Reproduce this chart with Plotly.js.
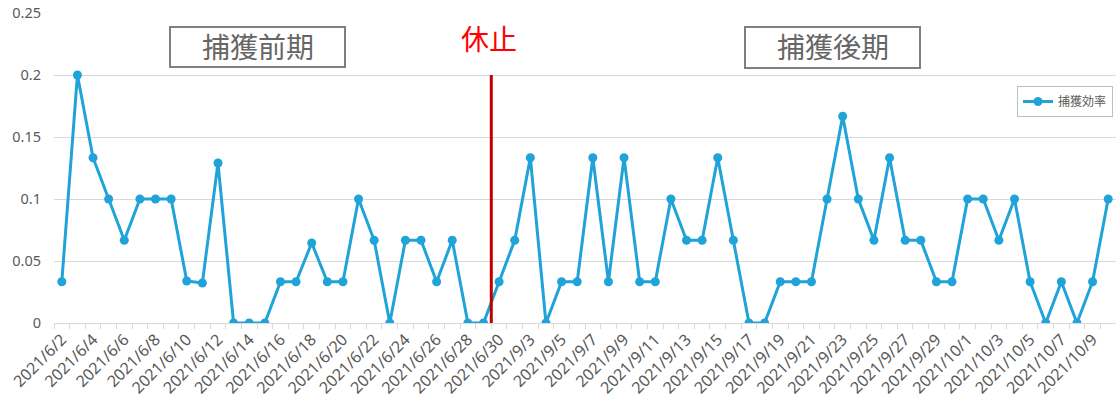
<!DOCTYPE html>
<html>
<head>
<meta charset="utf-8">
<script src="https://cdn.plot.ly/plotly-3.0.1.min.js"></script>
<style>html,body{margin:0;padding:0;background:#fff;}#chart{width:1116px;height:400px;}</style>
</head>
<body>
<div id="chart"></div>
<script>
const dates = [
  "2021/6/2","2021/6/3","2021/6/4","2021/6/5","2021/6/6","2021/6/7","2021/6/8","2021/6/9","2021/6/10",
  "2021/6/11","2021/6/12","2021/6/13","2021/6/14","2021/6/15","2021/6/16","2021/6/17","2021/6/18",
  "2021/6/19","2021/6/20","2021/6/21","2021/6/22","2021/6/23","2021/6/24","2021/6/25","2021/6/26",
  "2021/6/27","2021/6/28","2021/6/29","2021/6/30",
  "2021/9/2","2021/9/3","2021/9/4","2021/9/5","2021/9/6","2021/9/7","2021/9/8","2021/9/9","2021/9/10",
  "2021/9/11","2021/9/12","2021/9/13","2021/9/14","2021/9/15","2021/9/16","2021/9/17","2021/9/18",
  "2021/9/19","2021/9/20","2021/9/21","2021/9/22","2021/9/23","2021/9/24","2021/9/25","2021/9/26",
  "2021/9/27","2021/9/28","2021/9/29","2021/9/30",
  "2021/10/1","2021/10/2","2021/10/3","2021/10/4","2021/10/5","2021/10/6","2021/10/7","2021/10/8",
  "2021/10/9","2021/10/10"
];
const captureEfficiency = [
  0.0333,0.2,0.1333,0.1,0.0667,0.1,0.1,0.1,0.0339,
  0.0323,0.129,0,0,0,0.0333,0.0333,0.0645,
  0.0333,0.0333,0.1,0.0667,0,0.0667,0.0667,0.0333,
  0.0667,0,0,0.0333,
  0.0667,0.1333,0,0.0333,0.0333,0.1333,0.0333,0.1333,0.0333,
  0.0333,0.1,0.0667,0.0667,0.1333,0.0667,0,0,
  0.0333,0.0333,0.0333,0.1,0.1667,0.1,0.0667,0.1333,
  0.0667,0.0667,0.0333,0.0333,
  0.1,0.1,0.0667,0.1,0.0333,0,0.0333,0,
  0.0333,0.1
];
const seriesName = "捕獲効率";
const periodLabels = ["捕獲前期", "捕獲後期"];
const pauseLabel = "休止";

const tickText = dates.map((d, i) => (i % 2 === 0 ? d : ""));
const pauseIndex = dates.indexOf("2021/6/30") - 0.5;

const FONT = "Noto Sans, Noto Sans CJK JP, sans-serif";
const JP = "Noto Sans CJK JP, sans-serif";
const LINE = "#1fa3d8";

const trace = {
  type: "scatter",
  mode: "lines+markers",
  name: seriesName,
  x: dates,
  y: captureEfficiency,
  line: {color: LINE, width: 3},
  marker: {color: LINE, size: 9},
  showlegend: true
};

// pixel -> paper helpers (plot area: x 54..1116, y 13..323)
const px = v => (v - 54) / 1062;
const py = v => (323 - v) / 310;

const layout = {
  width: 1116, height: 400,
  margin: {l: 54, r: 0, t: 13, b: 77},
  paper_bgcolor: "#fff", plot_bgcolor: "#fff",
  font: {family: FONT, color: "#595959", size: 13},
  showlegend: true,
  legend: {
    x: px(1113), xanchor: "right", y: py(86), yanchor: "top",
    bgcolor: "#fff", bordercolor: "#bfbfbf", borderwidth: 1,
    font: {family: JP, size: 12, color: "#595959"},
    itemwidth: 30
  },
  xaxis: {
    type: "category",
    range: [-0.5, dates.length - 0.5],
    tickmode: "array", tickvals: dates, ticktext: tickText,
    tickson: "boundaries",
    ticks: "outside", ticklen: 5, tickcolor: "#d9d9d9", tickwidth: 1,
    tickangle: -45,
    tickfont: {family: FONT, size: 16, color: "#595959"},
    showgrid: false, zeroline: false,
    showline: true, linecolor: "#d9d9d9", linewidth: 1,
    fixedrange: true
  },
  yaxis: {
    range: [0, 0.25], dtick: 0.05, tick0: 0,
    gridcolor: "#d9d9d9", gridwidth: 1,
    zeroline: false, showline: false,
    ticks: "", ticklen: 0,
    tickfont: {family: FONT, size: 14.5, color: "#595959"},
    ticklabelstandoff: 12,
    fixedrange: true
  },
  shapes: [
    {type: "rect", xref: "paper", yref: "paper", x0: px(443), x1: px(535), y0: py(73), y1: py(0),
     fillcolor: "#ffffff", line: {width: 0}, layer: "above"},
    {type: "line", xref: "x", yref: "y", x0: pauseIndex, x1: pauseIndex, y0: 0, y1: 0.2,
     line: {color: "#c00000", width: 3}, layer: "above"},
    {type: "rect", xref: "paper", yref: "paper", x0: px(170), x1: px(345), y0: py(67), y1: py(27),
     fillcolor: "#ffffff", line: {color: "#7f7f7f", width: 2}, layer: "above"},
    {type: "rect", xref: "paper", yref: "paper", x0: px(745), x1: px(920), y0: py(68), y1: py(27),
     fillcolor: "#ffffff", line: {color: "#7f7f7f", width: 2}, layer: "above"}
  ],
  annotations: [
    {xref: "paper", yref: "paper", x: px(257.5), y: py(46), text: periodLabels[0], showarrow: false,
     xanchor: "center", yanchor: "middle", font: {family: JP, size: 28, color: "#666666"}},
    {xref: "paper", yref: "paper", x: px(832.5), y: py(46), text: periodLabels[1], showarrow: false,
     xanchor: "center", yanchor: "middle", font: {family: JP, size: 28, color: "#666666"}},
    {xref: "paper", yref: "paper", x: px(488.5), y: py(38), text: pauseLabel, showarrow: false,
     xanchor: "center", yanchor: "middle", font: {family: JP, size: 28, color: "#ff0000"}}
  ]
};

Plotly.newPlot("chart", [trace], layout, {displayModeBar: false, staticPlot: true});
</script>
</body>
</html>
